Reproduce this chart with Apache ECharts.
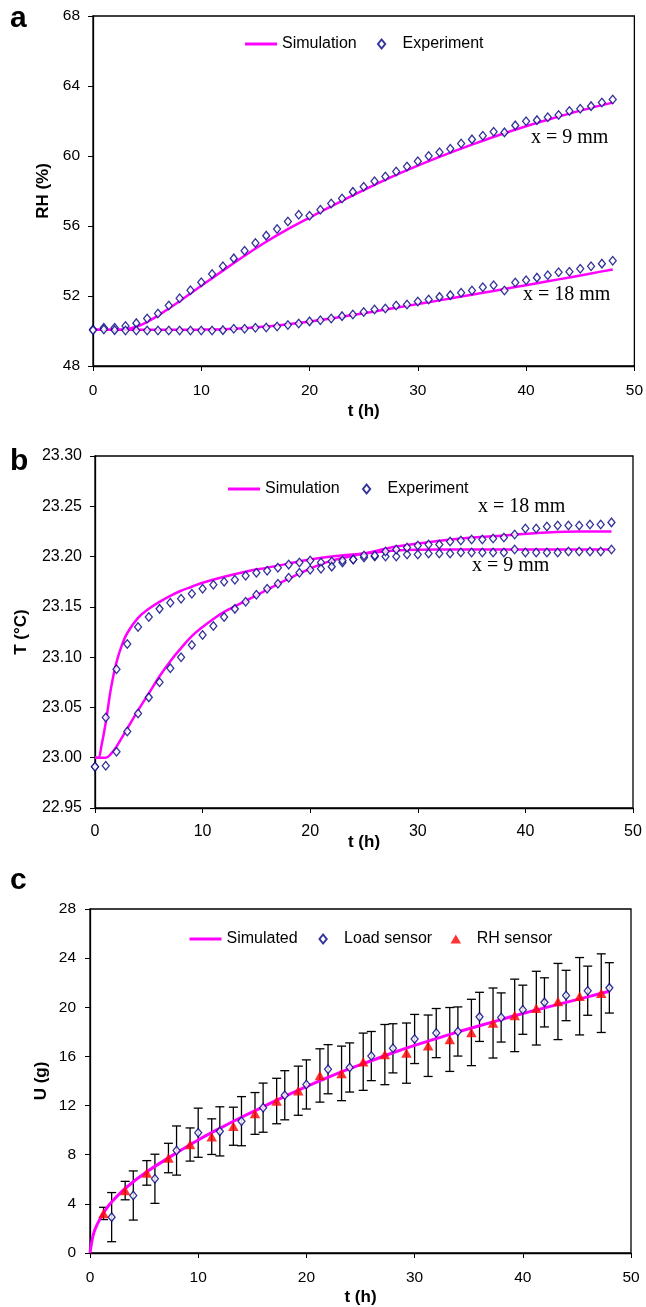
<!DOCTYPE html>
<html>
<head>
<meta charset="utf-8">
<script src="https://cdn.jsdelivr.net/npm/echarts@6.0.0/dist/echarts.min.js"></script>
<style>
  html, body { margin: 0; padding: 0; background: #fff; }
  #chart { width: 646px; height: 1307px; }
</style>
</head>
<body>
<div id="chart"></div>
<script>
// ---------- Panel a: relative humidity (%) vs time (h) ----------
const hoursA = [0,1,2,3,4,5,6,7,8,9,10,11,12,13,14,15,16,17,18,19,20,21,22,23,24,25,26,27,28,29,30,31,32,33,34,35,36,37,38,39,40,41,42,43,44,45,46,47,48];
const rhExp9 = [50.09,50.18,50.18,50.28,50.45,50.72,51.00,51.46,51.87,52.33,
                52.79,53.26,53.70,54.15,54.59,55.03,55.45,55.83,56.26,56.64,
                56.58,56.93,57.29,57.57,57.95,58.24,58.56,58.83,59.11,59.40,
                59.70,60.00,60.21,60.42,60.71,60.95,61.16,61.39,61.35,61.75,
                61.98,62.05,62.21,62.34,62.57,62.70,62.85,63.06,63.23];
const rhExp18 = [50.05,50.09,50.05,50.03,50.03,50.03,50.03,50.03,50.03,50.03,
                 50.03,50.03,50.05,50.13,50.13,50.18,50.20,50.26,50.34,50.43,
                 50.55,50.62,50.72,50.85,50.94,51.08,51.23,51.29,51.46,51.51,
                 51.68,51.80,51.95,52.05,52.18,52.31,52.50,52.62,52.31,52.77,
                 52.90,53.05,53.19,53.36,53.39,53.56,53.70,53.85,54.02];
const rhSimT9 = [0,2,3,4,5,6,8,10,12,14,16,18,20,22,24,26,28,30,32,34,36,38,40,42,44,46,48];
const rhSim9  = [50.07,50.07,50.10,50.24,50.52,50.88,51.70,52.58,53.45,54.30,55.10,55.82,56.48,57.12,57.75,58.35,58.92,59.45,59.95,60.42,60.87,61.30,61.70,62.07,62.42,62.75,63.05];
const rhSimT18 = [0,4,8,10,12,14,16,18,20,22,24,26,28,30,32,34,36,38,40,42,44,46,48];
const rhSim18  = [50.07,50.07,50.07,50.08,50.10,50.16,50.26,50.38,50.54,50.72,50.92,51.12,51.33,51.54,51.75,51.97,52.18,52.40,52.62,52.84,53.06,53.29,53.52];

// ---------- Panel b: temperature (°C) vs time (h) ----------
const hoursB = hoursA;
const tExp9 = [22.991,23.040,23.088,23.113,23.130,23.140,23.148,23.154,23.158,23.163,
               23.168,23.172,23.175,23.177,23.181,23.184,23.186,23.189,23.192,23.194,
               23.196,23.194,23.195,23.194,23.197,23.199,23.200,23.200,23.200,23.202,
               23.202,23.203,23.203,23.203,23.204,23.204,23.204,23.204,23.204,23.207,
               23.204,23.204,23.204,23.204,23.205,23.205,23.205,23.205,23.207];
const tExp18 = [22.991,22.992,23.006,23.026,23.044,23.060,23.075,23.089,23.100,23.112,
                23.122,23.131,23.140,23.148,23.155,23.162,23.168,23.173,23.179,23.184,
                23.187,23.188,23.190,23.196,23.197,23.201,23.201,23.205,23.207,23.209,
                23.211,23.212,23.212,23.215,23.216,23.217,23.217,23.218,23.219,23.222,
                23.228,23.228,23.230,23.231,23.231,23.231,23.232,23.232,23.234];
const tSimT9 = [0,0.3,0.6,1.0,1.5,2.0,2.5,3,4,5,6,7,8,9,10,12,14,16,18,20,22,25,28,32,40,48];
const tSim9  = [23.000,23.000,23.012,23.035,23.070,23.095,23.112,23.124,23.139,23.148,23.155,23.161,23.166,23.170,23.174,23.180,23.185,23.189,23.193,23.197,23.200,23.203,23.206,23.207,23.207,23.207];
const tSimT18 = [0,1,1.5,2,3,4,5,6,7,8,9,10,11,12,14,16,18,20,22,25,28,30,34,38,42,45,48];
const tSim18  = [23.000,23.000,23.004,23.011,23.029,23.047,23.064,23.081,23.096,23.109,23.121,23.130,23.138,23.145,23.156,23.167,23.178,23.188,23.196,23.203,23.210,23.213,23.218,23.221,23.224,23.225,23.225];

// ---------- Panel c: moisture uptake U (g) vs time (h) ----------
const loadT   = [2,4,6,8,10,12,14,16,18,20,22,24,26,28,30,32,34,36,38,40,42,44,46,48];
const loadU   = [2.92,4.68,6.04,8.34,9.79,9.90,10.73,11.83,12.84,13.72,14.96,15.10,16.03,16.66,17.42,17.90,18.03,19.22,19.17,19.80,20.40,20.96,21.35,21.58];
const loadErr = [2.0,2.0,2.0,2.0,2.0,2.0,2.0,2.0,2.0,2.0,2.0,2.0,2.0,2.0,2.0,2.0,2.0,2.0,2.0,2.0,2.0,2.05,2.0,2.05];
const rhSensT   = [1.25,3.25,5.25,7.25,9.25,11.25,13.25,15.25,17.25,19.25,21.25,23.25,25.25,27.25,29.25,31.25,33.25,35.25,37.25,39.25,41.25,43.25,45.25,47.25];
const rhSensU   = [3.22,5.08,6.52,7.73,8.83,9.47,10.32,11.36,12.37,13.21,14.45,14.62,15.57,16.15,16.27,16.87,17.38,17.95,18.72,19.34,19.93,20.47,20.90,21.15];
const rhSensErr = [0.5,0.75,1.0,1.2,1.35,1.45,1.55,1.7,1.85,2.0,2.17,2.22,2.33,2.45,2.45,2.5,2.6,2.7,2.85,2.95,3.0,3.1,3.15,3.2];
const simT = [0,0.25,0.5,1,1.5,2,3,4,5,6,8,10,12,14,16,18,20,22,24,26,28,30,32,34,36,38,40,42,44,46,48];
const simU = [0,1.3,2.0,2.9,3.6,4.15,5.05,5.8,6.45,7.05,8.15,9.2,10.15,11.05,11.9,12.75,13.55,14.3,15.0,15.65,16.3,16.9,17.45,18.0,18.5,19.0,19.5,19.95,20.4,20.85,21.3];

// ---------- styling ----------
const SANS = '"Liberation Sans", Arial, Helvetica, sans-serif';
const SERIF = '"Liberation Serif", "Times New Roman", serif';
const MAGENTA = '#FF00FF';
const NAVY = '#000080';
const RED = '#FF0000';
const LINE_ICON = 'path://M0,0L32,0L32,3L0,3Z';
const DIAMOND_ICON = 'path://M0,-10L8,0L0,10L-8,0Z';
const TRIANGLE_ICON = 'path://M0,-9L10,8L-10,8Z';

const pairs = (xs, ys) => xs.map((x, i) => [x, ys[i]]);
const bars = (xs, ys, es) => xs.map((x, i) => [x, ys[i] - es[i], ys[i] + es[i]]);

function xAxis(gridIndex, nameGap, margin, fontSize) {
  return {
    gridIndex, type: 'value', min: 0, max: 50, interval: 10,
    name: 't (h)', nameLocation: 'middle', nameGap, nameMoveOverlap: false,
    nameTextStyle: { fontFamily: SANS, fontWeight: 'bold', fontSize: 17, color: '#000' },
    axisLine: { show: true, lineStyle: { color: '#000', width: 1.3 } },
    axisTick: { show: true, inside: false, length: 5, lineStyle: { color: '#000', width: 1 } },
    axisLabel: { fontFamily: SANS, fontSize, color: '#000', margin },
    splitLine: { show: false }
  };
}
function yAxis(gridIndex, name, min, max, interval, nameGap, margin, fontSize, fmt) {
  return {
    gridIndex, type: 'value', min, max, interval,
    name, nameLocation: 'middle', nameGap, nameRotate: 90, nameMoveOverlap: false,
    nameTextStyle: { fontFamily: SANS, fontWeight: 'bold', fontSize: 17, color: '#000' },
    axisLine: { show: true, lineStyle: { color: '#000', width: 1.3 } },
    axisTick: { show: true, inside: false, length: 5, lineStyle: { color: '#000', width: 1 } },
    axisLabel: { fontFamily: SANS, fontSize, color: '#000', margin, formatter: fmt },
    splitLine: { show: false }
  };
}
function simLine(name, xi, data, width) {
  return {
    name, type: 'line', xAxisIndex: xi, yAxisIndex: xi, data,
    symbol: 'none', smooth: 0.4,
    lineStyle: { color: MAGENTA, width }, itemStyle: { color: MAGENTA },
    z: 3, silent: true, animation: false
  };
}
function diamonds(name, xi, data) {
  return {
    name, type: 'scatter', xAxisIndex: xi, yAxisIndex: xi, data,
    symbol: 'diamond', symbolSize: [7, 8.5],
    itemStyle: { color: '#fff', borderColor: NAVY, borderWidth: 1.3 },
    z: 5, silent: true, animation: false
  };
}
function errorBars(xi, data) {
  return {
    type: 'custom', xAxisIndex: xi, yAxisIndex: xi, data, z: 2, silent: true, animation: false,
    encode: { x: 0, y: [1, 2] },
    renderItem: (params, api) => {
      const x = api.value(0);
      const lo = api.coord([x, api.value(1)]);
      const hi = api.coord([x, api.value(2)]);
      const cap = 4.5;
      const st = { stroke: '#000', lineWidth: 1.3 };
      return {
        type: 'group',
        children: [
          { type: 'line', shape: { x1: lo[0], y1: lo[1], x2: hi[0], y2: hi[1] }, style: st },
          { type: 'line', shape: { x1: lo[0] - cap, y1: lo[1], x2: lo[0] + cap, y2: lo[1] }, style: st },
          { type: 'line', shape: { x1: hi[0] - cap, y1: hi[1], x2: hi[0] + cap, y2: hi[1] }, style: st }
        ]
      };
    }
  };
}
function legend(name, left, centerY, icon) {
  return {
    data: [{ name, icon }], left, top: centerY - 9, orient: 'horizontal', padding: 0,
    itemWidth: 32, itemHeight: 9, itemGap: 0, selectedMode: false,
    textStyle: { fontFamily: SANS, fontSize: 16, color: '#000', lineHeight: 18 }
  };
}
function txt(text, x, y, font) {
  return { type: 'text', left: x, top: y, style: { text, font, fill: '#000' }, silent: true };
}

const chart = echarts.init(document.getElementById('chart'), null, { renderer: 'canvas' });
chart.setOption({
  animation: false,
  backgroundColor: '#fff',
  grid: [
    { left: 93, top: 16, width: 543, height: 350, show: true, borderColor: '#000', borderWidth: 1.3, backgroundColor: 'transparent' },
    { left: 95, top: 456, width: 538, height: 352, show: true, borderColor: '#000', borderWidth: 1.3, backgroundColor: 'transparent' },
    { left: 90, top: 909, width: 541, height: 344, show: true, borderColor: '#000', borderWidth: 1.3, backgroundColor: 'transparent' }
  ],
  xAxis: [ xAxis(0, 36.5, 17, 15.5), xAxis(1, 26, 16, 16), xAxis(2, 35.5, 16.5, 15.5) ],
  yAxis: [
    yAxis(0, 'RH (%)', 48, 68, 4, 41, 13, 15.5),
    yAxis(1, 'T (°C)', 22.95, 23.30, 0.05, 65.5, 13, 16, v => v.toFixed(2)),
    yAxis(2, 'U (g)', 0, 28, 4, 40, 14, 15.5)
  ],
  legend: [
    legend('Simulation', 245, 44, LINE_ICON),
    legend('Experiment', 377, 44, DIAMOND_ICON),
    legend('Simulation', 228, 489, LINE_ICON),
    legend('Experiment', 362, 489, DIAMOND_ICON),
    legend('Simulated', 189.5, 939, LINE_ICON),
    legend('Load sensor', 318.5, 939, DIAMOND_ICON),
    legend('RH sensor', 450.5, 939, TRIANGLE_ICON)
  ],
  graphic: [
    { type: 'text', left: 10, top: 4, style: { text: 'a', font: 'bold 30px ' + SANS, fill: '#000' } },
    { type: 'text', left: 10, top: 447, style: { text: 'b', font: 'bold 30px ' + SANS, fill: '#000' } },
    { type: 'text', left: 10, top: 866, style: { text: 'c', font: 'bold 30px ' + SANS, fill: '#000' } },
    txt('x = 9 mm', 531, 128, '20px ' + SERIF),
    txt('x = 18 mm', 523, 285, '20px ' + SERIF),
    txt('x = 18 mm', 478, 497, '20px ' + SERIF),
    txt('x = 9 mm', 472, 556, '20px ' + SERIF)
  ],
  series: [
    simLine('Simulation', 0, pairs(rhSimT9, rhSim9), 2.5),
    simLine('Simulation', 0, pairs(rhSimT18, rhSim18), 2.5),
    diamonds('Experiment', 0, pairs(hoursA, rhExp9)),
    diamonds('Experiment', 0, pairs(hoursA, rhExp18)),

    simLine('Simulation', 1, pairs(tSimT9, tSim9), 2.5),
    simLine('Simulation', 1, pairs(tSimT18, tSim18), 2.5),
    diamonds('Experiment', 1, pairs(hoursB, tExp9)),
    diamonds('Experiment', 1, pairs(hoursB, tExp18)),

    errorBars(2, bars(loadT, loadU, loadErr)),
    errorBars(2, bars(rhSensT, rhSensU, rhSensErr)),
    simLine('Simulated', 2, pairs(simT, simU), 3),
    diamonds('Load sensor', 2, pairs(loadT, loadU)),
    {
      name: 'RH sensor', type: 'scatter', xAxisIndex: 2, yAxisIndex: 2,
      data: pairs(rhSensT, rhSensU), symbol: 'triangle', symbolSize: [10.5, 9.5],
      itemStyle: { color: RED }, z: 6, silent: true, animation: false
    }
  ]
});
</script>
</body>
</html>
